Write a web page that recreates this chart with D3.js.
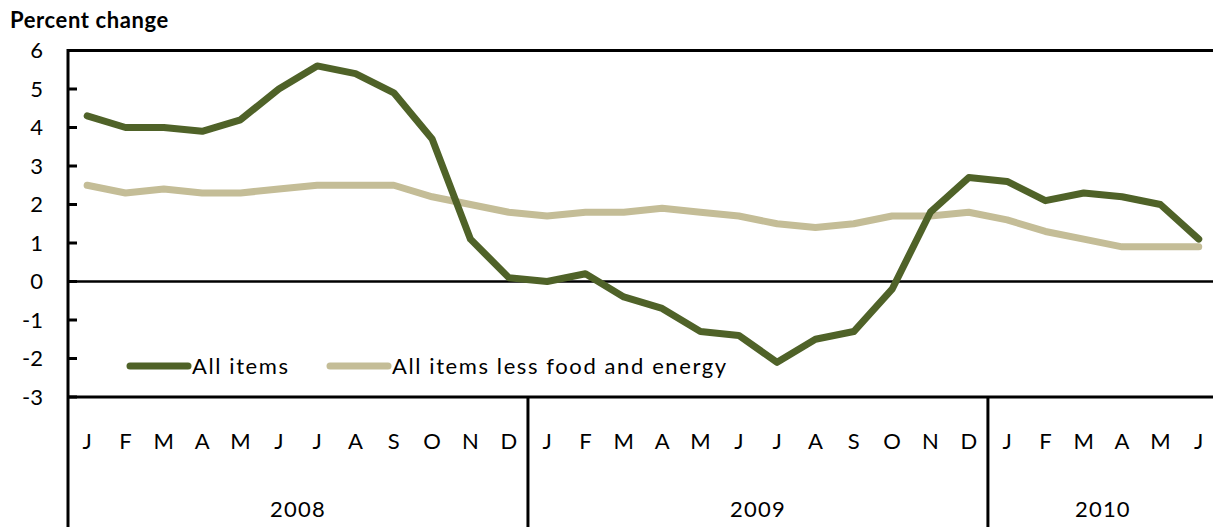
<!DOCTYPE html>
<html>
<head>
<meta charset="utf-8">
<script src="https://cdn.jsdelivr.net/npm/d3@7"></script>
<style>
  body { margin: 0; background: #fff; }
  svg { display: block; font-family: Lato, "Liberation Sans", sans-serif; }
</style>
</head>
<body>
<script>
// CPI 12-month percent change, Jan 2008 - Jun 2010

var years = ["2008", "2009", "2010"];
var monthLetters = ["J", "F", "M", "A", "M", "J", "J", "A", "S", "O", "N", "D"];
var monthsPerYear = [12, 12, 6];

var allItems = [4.3, 4.0, 4.0, 3.9, 4.2, 5.0, 5.6, 5.4, 4.9, 3.7, 1.1, 0.1,
                0.0, 0.2, -0.4, -0.7, -1.3, -1.4, -2.1, -1.5, -1.3, -0.2, 1.8, 2.7,
                2.6, 2.1, 2.3, 2.2, 2.0, 1.1];
var coreItems = [2.5, 2.3, 2.4, 2.3, 2.3, 2.4, 2.5, 2.5, 2.5, 2.2, 2.0, 1.8,
                 1.7, 1.8, 1.8, 1.9, 1.8, 1.7, 1.5, 1.4, 1.5, 1.7, 1.7, 1.8,
                 1.6, 1.3, 1.1, 0.9, 0.9, 0.9];
var yTicks = [6, 5, 4, 3, 2, 1, 0, -1, -2, -3];

var seriesNames = ["All items", "All items less food and energy"];
var seriesColors = ["#4f6228", "#c4bd97"];

var width = 1213, height = 527;
var plotLeft = 68, plotTop = 50.5, plotBottom = 397;
var step = 38.33;

// build month list with year
var months = [];
years.forEach(function(y, yi) {
    for (var m = 0; m < monthsPerYear[yi]; m++) {
        months.push({year: y, label: monthLetters[m], idx: months.length});
    }
});

var xScale = d3.scaleBand()
    .domain(d3.range(months.length))
    .range([plotLeft, plotLeft + months.length * step]);

var yScale = d3.scaleLinear().domain([-3, 6]).range([plotBottom, plotTop]);

var svg = d3.select("body").append("svg")
    .attr("width", width)
    .attr("height", height);

// title
svg.append("text")
    .attr("x", 10)
    .attr("y", 28)
    .attr("font-size", 22)
    .attr("font-weight", "bold")
    .attr("letter-spacing", 0.6)
    .text("Percent change");

// y tick labels
svg.selectAll(".ylab")
    .data(yTicks)
    .enter().append("text")
    .attr("class", "ylab")
    .attr("x", 43)
    .attr("y", function(d) { return yScale(d); })
    .attr("dy", "0.36em")
    .attr("text-anchor", "end")
    .attr("font-size", 22)
    .text(function(d) { return d; });

// y ticks (pointing inside)
svg.selectAll(".ytick")
    .data(yTicks)
    .enter().append("line")
    .attr("x1", plotLeft)
    .attr("x2", plotLeft + 9)
    .attr("y1", function(d) { return yScale(d); })
    .attr("y2", function(d) { return yScale(d); })
    .attr("stroke", "#000")
    .attr("stroke-width", 3);

// top and bottom border, zero line
svg.append("line")
    .attr("x1", plotLeft).attr("x2", width)
    .attr("y1", yScale(6)).attr("y2", yScale(6))
    .attr("stroke", "#000").attr("stroke-width", 3);
svg.append("line")
    .attr("x1", plotLeft).attr("x2", width)
    .attr("y1", yScale(-3)).attr("y2", yScale(-3))
    .attr("stroke", "#000").attr("stroke-width", 3);
svg.append("line")
    .attr("x1", plotLeft).attr("x2", width)
    .attr("y1", yScale(0)).attr("y2", yScale(0))
    .attr("stroke", "#000").attr("stroke-width", 2.5);

// left axis line
svg.append("line")
    .attr("x1", plotLeft).attr("x2", plotLeft)
    .attr("y1", plotTop - 1.5).attr("y2", height)
    .attr("stroke", "#000").attr("stroke-width", 3);

// year separators
var yearStarts = [];
months.forEach(function(m) {
    if (m.idx > 0 && m.label === "J" && months[m.idx - 1].label === "D") yearStarts.push(m.idx);
});
svg.selectAll(".sep")
    .data(yearStarts)
    .enter().append("line")
    .attr("x1", function(d) { return xScale(d); })
    .attr("x2", function(d) { return xScale(d); })
    .attr("y1", plotBottom).attr("y2", height)
    .attr("stroke", "#000").attr("stroke-width", 3);

// month labels
svg.selectAll(".mlab")
    .data(months)
    .enter().append("text")
    .attr("x", function(d) { return xScale(d.idx) + xScale.bandwidth() / 2; })
    .attr("y", 449)
    .attr("text-anchor", "middle")
    .attr("font-size", 22)
    .text(function(d) { return d.label; });

// year labels
var start = 0;
years.forEach(function(y, yi) {
    var x0 = xScale(start);
    var x1 = xScale(start + monthsPerYear[yi] - 1) + xScale.bandwidth();
    svg.append("text")
        .attr("x", (x0 + x1) / 2)
        .attr("y", 517)
        .attr("text-anchor", "middle")
        .attr("font-size", 22)
        .attr("letter-spacing", 1.2)
        .text(y);
    start += monthsPerYear[yi];
});

// lines
var line = d3.line()
    .x(function(d, i) { return xScale(i) + xScale.bandwidth() / 2; })
    .y(function(d) { return yScale(d); });

[coreItems, allItems].forEach(function(s, i) {
    svg.append("path")
        .datum(s)
        .attr("d", line)
        .attr("fill", "none")
        .attr("stroke", seriesColors[1 - i])
        .attr("stroke-width", 7)
        .attr("stroke-linejoin", "round")
        .attr("stroke-linecap", "round");
});

// legend
var legendX = [130, 330];
seriesNames.forEach(function(name, i) {
    svg.append("line")
        .attr("x1", legendX[i]).attr("x2", legendX[i] + 58)
        .attr("y1", 366).attr("y2", 366)
        .attr("stroke", seriesColors[i])
        .attr("stroke-width", 7)
        .attr("stroke-linecap", "round");
    svg.append("text")
        .attr("x", legendX[i] + 62)
        .attr("y", 374)
        .attr("font-size", 22)
        .attr("letter-spacing", 1.6)
        .text(name);
});
</script>
</body>
</html>
